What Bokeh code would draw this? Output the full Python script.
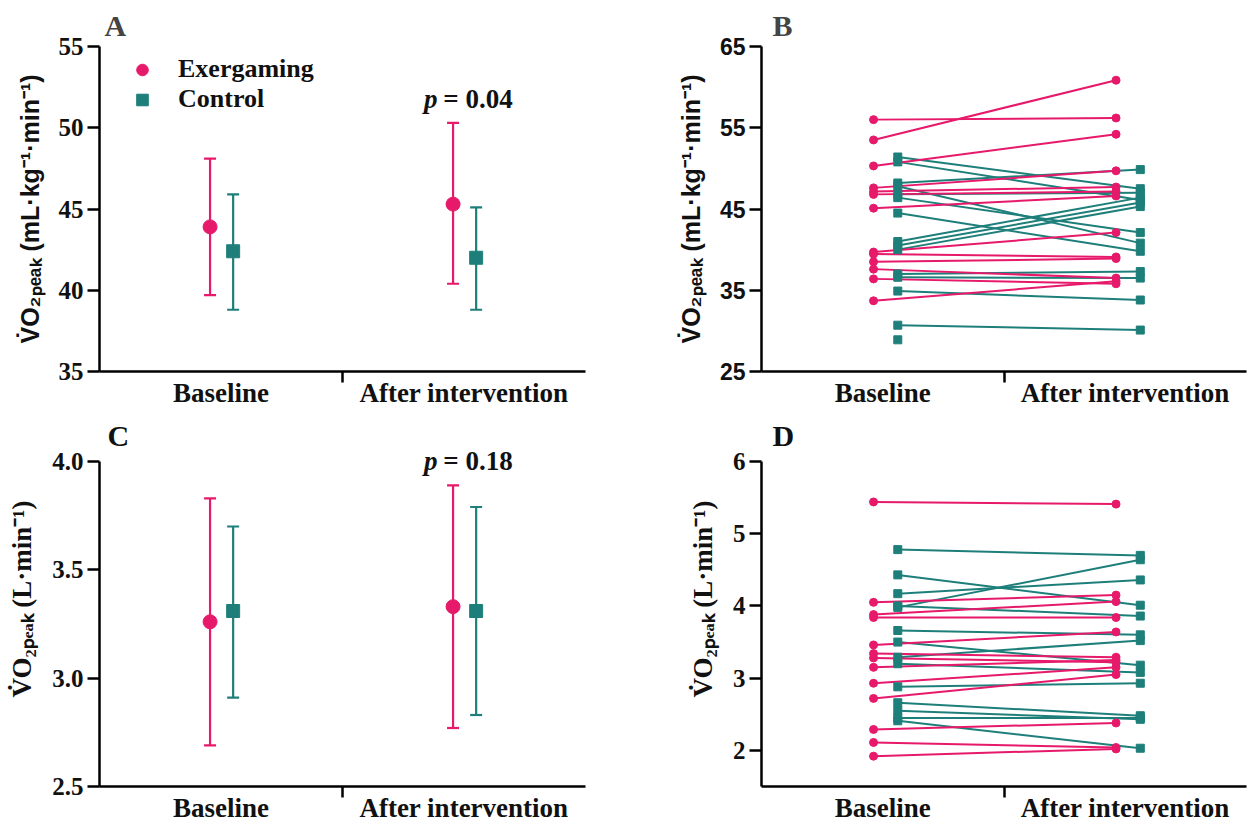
import numpy as np
from bokeh.plotting import figure
from bokeh.models import (Range1d, FixedTicker, Whisker, TeeHead, ColumnDataSource,
                          Legend, LegendItem, Label, PrintfTickFormatter)
from bokeh.layouts import row, column
from bokeh.embed import file_html
from bokeh.resources import INLINE

PINK = "#E6196A"
TEAL = "#1E7F7A"

timepoints = ["Baseline", "After intervention"]
groups = ["Exergaming", "Control"]

# ---- Panel A: VO2peak relative (mean, lower, upper)
a_ex_mean = [43.9, 45.3]
a_ex_low = [39.7, 40.4]
a_ex_high = [48.1, 50.3]
a_ct_mean = [42.4, 42.0]
a_ct_low = [38.8, 38.8]
a_ct_high = [45.9, 45.1]
a_p_text = "= 0.04"

# ---- Panel C: VO2peak absolute
c_ex_mean = [3.26, 3.33]
c_ex_low = [2.69, 2.77]
c_ex_high = [3.83, 3.89]
c_ct_mean = [3.31, 3.31]
c_ct_low = [2.91, 2.83]
c_ct_high = [3.70, 3.79]
c_p_text = "= 0.18"

# ---- Panel B: individual relative VO2peak
b_ex_base = [56.0, 53.5, 50.3, 47.6, 47.15, 46.8, 45.1, 39.7, 39.45, 38.5, 37.6, 36.4, 33.7]
b_ex_after = [56.2, 60.85, 54.2, 49.7, 47.7, 47.15, 46.6, 42.1, 39.1, 38.9, 36.5, 35.8, 36.1]
b_ct_base = [51.4, 50.8, 48.2, 47.8, 46.8, 46.4, 44.5, 41.0, 40.5, 40.0, 37.0, 36.6, 34.9, 30.7, 28.9]
b_ct_after = [47.5, 46.1, 49.85, 40.8, 47.0, 42.1, 39.8, 46.4, 45.8, 45.3, 37.3, 36.5, 33.8, 30.1, float("nan")]

# ---- Panel D: individual absolute VO2peak
d_ex_base = [5.44, 4.05, 3.88, 3.84, 3.46, 3.34, 3.28, 3.15, 2.93, 2.72, 2.29, 2.11, 1.92]
d_ex_after = [5.41, 4.15, 4.06, 3.84, 3.64, 3.29, 3.22, 3.25, 3.15, 3.05, 2.38, 2.04, 2.02]
d_ct_base = [4.78, 4.43, 4.17, 4.00, 3.98, 3.66, 3.50, 3.29, 3.20, 2.88, 2.66, 2.55, 2.45, 2.41]
d_ct_after = [4.70, 4.01, 4.36, 3.86, 4.64, 3.60, 3.18, 3.52, 3.08, 2.93, 2.48, 2.43, 2.45, 2.03]

A_YTICKS = [35, 40, 45, 50, 55]
B_YTICKS = [25, 35, 45, 55, 65]
C_YTICKS = [2.5, 3.0, 3.5, 4.0]
D_YTICKS = [2, 3, 4, 5, 6]

LABEL_REL = "V\u0307O\u2082\u209a\u2091\u2090\u2096 (mL\u00b7kg\u207b\u00b9\u00b7min\u207b\u00b9)"
LABEL_ABS = "V\u0307O\u2082\u209a\u2091\u2090\u2096 (L\u00b7min\u207b\u00b9)"

SERIF = "Liberation Serif"
SANS = "Liberation Sans"

# style: x offsets of the two groups within a time point
MEAN_OFF = (0.455, 0.55)
IND_OFF = (0.462, 0.562)

# style: extra pixels of plot frame above the top of the lower panels' y axes
EXTRA_PX = 50
LOWER_H = 325


def make_fig(ylo, yhi, axis_top, yticks, ylabel, tick_font, label_font, label_size, fw, fh,
             bl, br, bt, bb, title=None, title_offset=0, title_standoff=0, fmt=None):
    p = figure(frame_width=fw, frame_height=fh, x_range=Range1d(0, 2),
               y_range=Range1d(ylo, yhi), output_backend="svg",
               toolbar_location=None, min_border_left=bl, min_border_right=br,
               min_border_top=bt, min_border_bottom=bb, title=title)
    p.outline_line_color = None
    p.xgrid.visible = False
    p.ygrid.visible = False
    p.background_fill_color = "white"
    p.border_fill_color = "white"
    if title:
        p.title.text_font = SERIF
        p.title.text_font_style = "bold"
        p.title.text_font_size = "30px"
        p.title.align = "left"
        p.title.offset = title_offset
        p.title.standoff = title_standoff

    xa = p.xaxis[0]
    xa.ticker = FixedTicker(ticks=[0.5, 1.5], minor_ticks=[1.0])
    xa.major_label_overrides = {0.5: timepoints[0], 1.5: timepoints[1]}
    xa.major_tick_out = 0
    xa.major_tick_in = 0
    xa.minor_tick_out = 11
    xa.minor_tick_in = 0
    xa.minor_tick_line_width = 2.5
    xa.axis_line_width = 2.5
    xa.major_label_standoff = -5
    xa.major_label_text_font = SERIF
    xa.major_label_text_font_style = "bold"
    xa.major_label_text_font_size = "27px"
    xa.major_label_text_color = "#111111"

    ya = p.yaxis[0]
    ya.ticker = FixedTicker(ticks=yticks)
    ya.bounds = (ylo, axis_top)
    if fmt:
        ya.formatter = PrintfTickFormatter(format=fmt)
    ya.major_tick_out = 12
    ya.major_tick_in = 0
    ya.major_tick_line_width = 2.5
    ya.minor_tick_line_color = None
    ya.axis_line_width = 2.5
    ya.major_label_standoff = 4
    ya.major_label_text_font = tick_font
    ya.major_label_text_font_style = "bold"
    ya.major_label_text_font_size = "25px" if tick_font == SERIF else "23px"
    ya.major_label_text_color = "#111111"
    ya.axis_label = ylabel
    ya.axis_label_text_font = label_font
    ya.axis_label_text_font_style = "bold"
    ya.axis_label_text_font_size = label_size
    ya.axis_label_standoff = 12
    ya.axis_label_text_color = "#111111"
    return p


def add_means(p, ex_mean, ex_low, ex_high, ct_mean, ct_low, ct_high, head):
    renderers = []
    for off, mean, low, high, color, marker, size in [
        (MEAN_OFF[0], ex_mean, ex_low, ex_high, PINK, "circle", 14),
        (MEAN_OFF[1], ct_mean, ct_low, ct_high, TEAL, "square", 13),
    ]:
        src = ColumnDataSource(dict(x=[i + off for i in range(len(timepoints))],
                                    y=mean, lower=low, upper=high))
        w = Whisker(base="x", upper="upper", lower="lower", source=src,
                    line_color=color, line_width=2.2,
                    upper_head=TeeHead(size=head, line_color=color, line_width=2.2),
                    lower_head=TeeHead(size=head, line_color=color, line_width=2.2))
        p.add_layout(w)
        r = p.scatter("x", "y", source=src, marker=marker, size=size,
                      fill_color=color, line_color=color)
        renderers.append(r)
    return renderers


def add_p_label(p, x, y, text):
    p.add_layout(Label(x=x, y=y, text="p", text_font=SERIF, text_font_style="bold italic",
                       text_font_size="27px", text_color="#111111"))
    p.add_layout(Label(x=x + 0.08, y=y, text=text, text_font=SERIF, text_font_style="bold",
                       text_font_size="27px", text_color="#111111"))


def add_panel_letter(p, x, y, letter):
    p.add_layout(Label(x=x, y=y, text=letter, text_font=SERIF, text_font_style="bold",
                       text_font_size="30px", text_color="#111111"))


def add_individuals(p, ex_b, ex_a, ct_b, ct_a, size):
    for b, a, off0, off1, color in [(ct_b, ct_a, IND_OFF[1], 1 + IND_OFF[1], TEAL),
                                    (ex_b, ex_a, IND_OFF[0], 1 + IND_OFF[0], PINK)]:
        b = np.array(b, dtype=float)
        a = np.array(a, dtype=float)
        ok = np.isfinite(a)
        p.segment(x0=np.full(ok.sum(), off0), y0=b[ok], x1=np.full(ok.sum(), off1), y1=a[ok],
                  line_color=color, line_width=2)
    for b, a, off, color, marker, sz in [(ct_b, ct_a, IND_OFF[1], TEAL, "square", size),
                                        (ex_b, ex_a, IND_OFF[0], PINK, "circle", size)]:
        b = np.array(b, dtype=float)
        a = np.array(a, dtype=float)
        ok = np.isfinite(a)
        p.scatter(np.full(len(b), off), b, marker=marker, size=sz, fill_color=color, line_color=color)
        p.scatter(np.full(ok.sum(), 1 + off), a[ok], marker=marker, size=sz,
                  fill_color=color, line_color=color)


# ---- A
pa = make_fig(35, 55, 55, A_YTICKS, LABEL_REL, SERIF, SANS, "25px", 486, 325,
              99, 84, 46, 37, "A", 5, 10)
ra = add_means(pa, a_ex_mean, a_ex_low, a_ex_high, a_ct_mean, a_ct_low, a_ct_high, 12)
add_p_label(pa, 1.335, 50.85, a_p_text)
legend = Legend(items=[LegendItem(label=groups[0], renderers=[ra[0]]),
                       LegendItem(label=groups[1], renderers=[ra[1]])],
                location="top_left", margin=8, padding=11, glyph_width=70, glyph_height=29,
                label_height=29, spacing=0, label_standoff=1, border_line_color=None,
                background_fill_alpha=0, label_text_font=SERIF, label_text_font_style="bold",
                label_text_font_size="26px", label_text_color="#111111")
pa.add_layout(legend)

# ---- B
pb = make_fig(25, 65, 65, B_YTICKS, LABEL_REL, SANS, SANS, "25px", 485, 325,
              92, 1, 46, 37, "B", 11, 10)
add_individuals(pb, b_ex_base, b_ex_after, b_ct_base, b_ct_after, 8)

# ---- C (range extended above the axis so the texts near the top are not clipped)
c_lo, c_top = 2.5, 4.0
c_hi = c_top + (c_top - c_lo) * EXTRA_PX / LOWER_H
pc = make_fig(c_lo, c_hi, c_top, C_YTICKS, LABEL_ABS, SERIF, SERIF, "27px", 486,
              LOWER_H + EXTRA_PX, 99, 84, 1, 31, fmt="%.1f")
add_means(pc, c_ex_mean, c_ex_low, c_ex_high, c_ct_mean, c_ct_low, c_ct_high, 12)
add_p_label(pc, 1.335, 3.935, c_p_text)
add_panel_letter(pc, 0.033, 4.042, "C")

# ---- D
d_lo, d_top = 1.5, 6.0
d_hi = d_top + (d_top - d_lo) * EXTRA_PX / LOWER_H
pd_ = make_fig(d_lo, d_hi, d_top, D_YTICKS, LABEL_ABS, SERIF, SERIF, "27px", 485,
               LOWER_H + EXTRA_PX, 92, 1, 1, 31)
add_individuals(pd_, d_ex_base, d_ex_after, d_ct_base, d_ct_after, 8)
add_panel_letter(pd_, 0.045, 6.125, "D")

layout = column(row(pa, pb), row(pc, pd_))
open("out.html", "w").write(file_html(layout, INLINE))
